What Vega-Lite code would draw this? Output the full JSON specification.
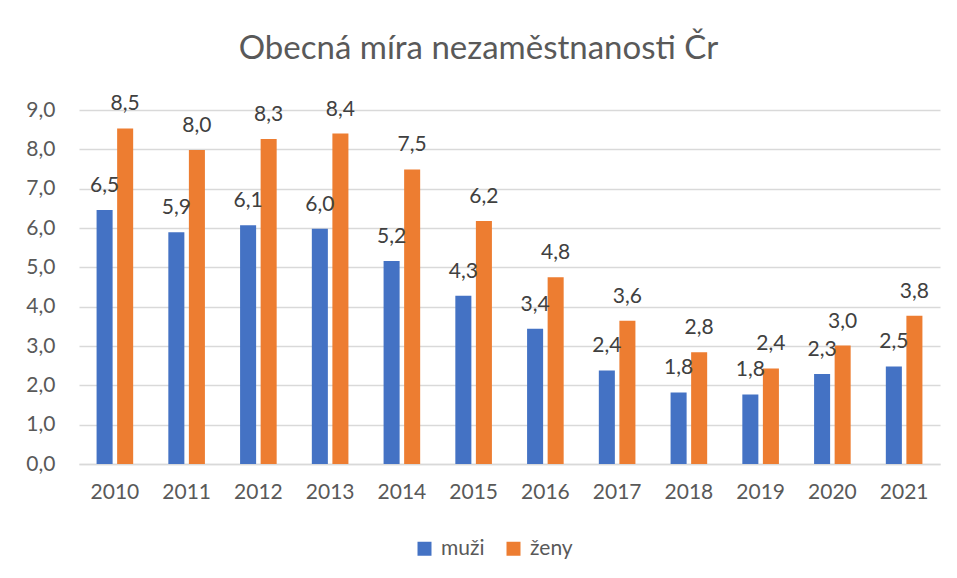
{
  "$schema": "https://vega.github.io/schema/vega-lite/v6.json",
  "autosize": {"type": "none"},
  "width": 861,
  "height": 354,
  "padding": {"left": 79, "top": 110, "right": 17, "bottom": 114},
  "background": "white",
  "config": {
    "locale": {"number": {"decimal": ",", "thousands": " ", "grouping": [3], "currency": ["", " Kč"]}},
    "view": {"stroke": null},
    "font": "Lato"
  },
  "title": {
    "text": "Obecná míra nezaměstnanosti Čr",
    "frame": "group",
    "anchor": "middle",
    "dx": -31,
    "offset": 27,
    "fontSize": 33,
    "font": "Lato",
    "fontWeight": "normal",
    "color": "#595959"
  },
  "data": {
    "values": [
      {"rok": "2010", "pohlavi": "muži", "hodnota": 6.46},
      {"rok": "2010", "pohlavi": "ženy", "hodnota": 8.53},
      {"rok": "2011", "pohlavi": "muži", "hodnota": 5.89},
      {"rok": "2011", "pohlavi": "ženy", "hodnota": 7.98},
      {"rok": "2012", "pohlavi": "muži", "hodnota": 6.07},
      {"rok": "2012", "pohlavi": "ženy", "hodnota": 8.26},
      {"rok": "2013", "pohlavi": "muži", "hodnota": 5.98},
      {"rok": "2013", "pohlavi": "ženy", "hodnota": 8.4},
      {"rok": "2014", "pohlavi": "muži", "hodnota": 5.16},
      {"rok": "2014", "pohlavi": "ženy", "hodnota": 7.49},
      {"rok": "2015", "pohlavi": "muži", "hodnota": 4.28},
      {"rok": "2015", "pohlavi": "ženy", "hodnota": 6.18},
      {"rok": "2016", "pohlavi": "muži", "hodnota": 3.44},
      {"rok": "2016", "pohlavi": "ženy", "hodnota": 4.75},
      {"rok": "2017", "pohlavi": "muži", "hodnota": 2.38},
      {"rok": "2017", "pohlavi": "ženy", "hodnota": 3.64},
      {"rok": "2018", "pohlavi": "muži", "hodnota": 1.82},
      {"rok": "2018", "pohlavi": "ženy", "hodnota": 2.84},
      {"rok": "2019", "pohlavi": "muži", "hodnota": 1.77},
      {"rok": "2019", "pohlavi": "ženy", "hodnota": 2.43},
      {"rok": "2020", "pohlavi": "muži", "hodnota": 2.29},
      {"rok": "2020", "pohlavi": "ženy", "hodnota": 3.01},
      {"rok": "2021", "pohlavi": "muži", "hodnota": 2.48},
      {"rok": "2021", "pohlavi": "ženy", "hodnota": 3.77}
    ]
  },
  "encoding": {
    "x": {
      "field": "rok",
      "type": "nominal",
      "scale": {"paddingInner": 0.49, "paddingOuter": 0.245},
      "axis": {
        "title": null,
        "labelAngle": 0,
        "labelFontSize": 21,
        "labelFont": "Lato",
        "labelColor": "#595959",
        "labelPadding": 17,
        "ticks": false,
        "domainColor": "#d9d9d9",
        "domainWidth": 1.5
      }
    },
    "xOffset": {
      "field": "pohlavi",
      "type": "nominal",
      "scale": {"paddingInner": 0.22, "paddingOuter": 0}
    },
    "y": {
      "field": "hodnota",
      "type": "quantitative",
      "scale": {"domain": [0, 9], "nice": false},
      "axis": {
        "title": null,
        "values": [0, 1, 2, 3, 4, 5, 6, 7, 8, 9],
        "format": ".1f",
        "labelFontSize": 21,
        "labelFont": "Lato",
        "labelColor": "#595959",
        "labelPadding": 24,
        "ticks": false,
        "domain": false,
        "gridColor": "#d9d9d9",
        "gridWidth": 1.5
      }
    }
  },
  "layer": [
    {
      "mark": {"type": "bar"},
      "encoding": {
        "color": {
          "field": "pohlavi",
          "type": "nominal",
          "scale": {"domain": ["muži", "ženy"], "range": ["#4472C4", "#ED7D31"]},
          "legend": {
            "title": null,
            "orient": "none",
            "direction": "horizontal",
            "legendX": 335,
            "legendY": 428,
            "symbolType": "square",
            "symbolSize": 196,
            "symbolStrokeWidth": 0,
            "labelFontSize": 21,
            "labelFont": "Lato",
            "labelColor": "#595959",
            "labelOffset": 6,
            "columnPadding": 18
          }
        }
      }
    },
    {
      "mark": {"type": "text", "baseline": "middle", "dy": -24, "fontSize": 21, "font": "Lato", "color": "#404040"},
      "encoding": {
        "text": {"field": "hodnota", "type": "quantitative", "format": ".1f"}
      }
    }
  ]
}
